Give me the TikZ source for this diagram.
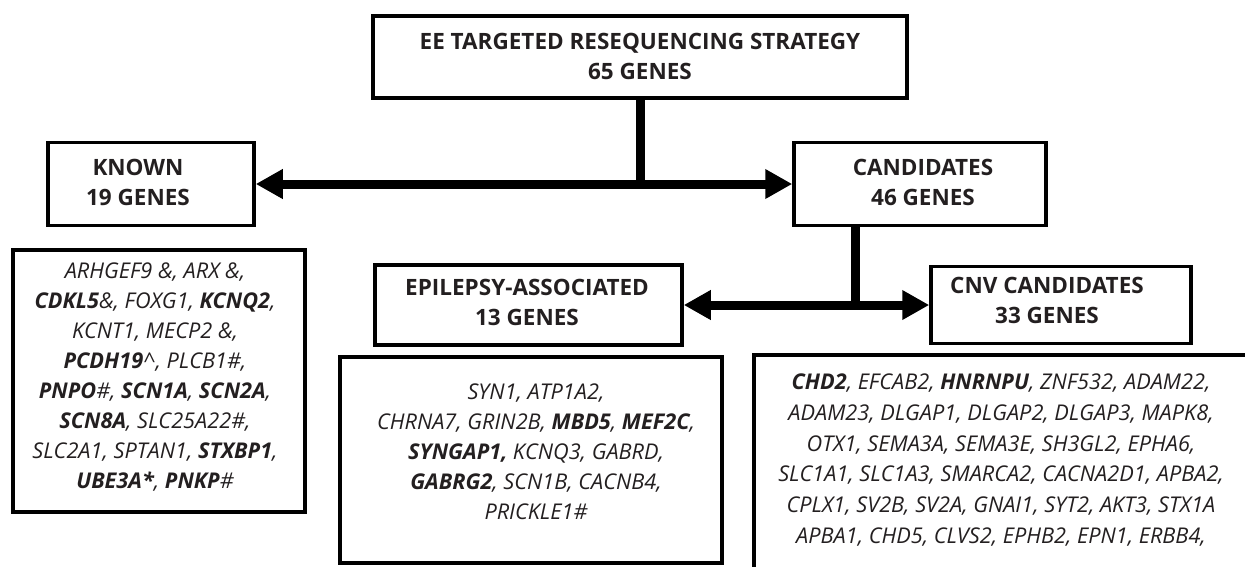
\documentclass[tikz,border=0pt]{standalone}
\usepackage{fontspec}
\setmainfont{Open Sans}
\usetikzlibrary{arrows.meta}
\definecolor{ink}{HTML}{231F20}
\newcommand\gb[1]{\textbf{#1}}
\begin{document}
\begin{tikzpicture}[x=1pt,y=-1pt,
  box/.style={draw=black,line width=3.5pt,rectangle,inner sep=0pt},
  head/.style={text=ink,align=center,font=\fontsize{22.5}{30}\selectfont\bfseries,inner sep=0pt},
  genes/.style={text=ink,align=center,font=\fontsize{21.7}{30}\selectfont\itshape,inner sep=0pt},
  link/.style={line width=9pt,draw=black},
  dbl/.style={link,{Triangle[length=27pt,width=28pt]}-{Triangle[length=27pt,width=28pt]}}]
\useasboundingbox (0,0) rectangle (1245,566);
\clip (0,0) rectangle (1245,566);
% header boxes
\node[box,minimum width=534pt,minimum height=82pt] (top) at (640,57) {};
\node[head] (toptxt) at (640,56) {EE TARGETED RESEQUENCING STRATEGY\\65 GENES};
\node[box,minimum width=206pt,minimum height=83pt] (known) at (151,184) {};
\node[head] (knowntxt) at (138,182) {KNOWN\\19 GENES};
\node[box,minimum width=252pt,minimum height=83pt] (cand) at (920,184) {};
\node[head] (candtxt) at (923,182) {CANDIDATES\\46 GENES};
\node[box,minimum width=307pt,minimum height=80pt] (epi) at (528.5,305) {};
\node[head] (epitxt) at (527,302) {EPILEPSY-ASSOCIATED\\13 GENES};
\node[box,minimum width=260pt,minimum height=77pt] (cnv) at (1061,305) {};
\node[head] (cnvtxt) at (1047,300) {CNV CANDIDATES\\33 GENES};
% gene list boxes
\node[box,minimum width=292pt,minimum height=262pt] (knownlist) at (159,381) {};
\node[genes] (knowngenes) at (155,377) {ARHGEF9 \&, ARX \&,\\
\gb{CDKL5}\&, FOXG1, \gb{KCNQ2},\\
KCNT1, MECP2 \&,\\
\gb{PCDH19}\textasciicircum, PLCB1\#,\\
\gb{PNPO}\#, \gb{SCN1A}, \gb{SCN2A},\\
\gb{SCN8A}, SLC25A22\#,\\
SLC2A1, SPTAN1, \gb{STXBP1},\\
\gb{UBE3A*}, \gb{PNKP}\#};
\node[box,minimum width=382pt,minimum height=206pt] (epilist) at (531,460) {};
\node[genes] (epigenes) at (536,452) {SYN1, ATP1A2,\\
CHRNA7, GRIN2B, \gb{MBD5}, \gb{MEF2C},\\
\gb{SYNGAP1,} KCNQ3, GABRD,\\
\gb{GABRG2}, SCN1B, CACNB4,\\
PRICKLE1\#};
\node[box,minimum width=520pt,minimum height=260pt] (cnvlist) at (1014,485) {};
\node[genes,font=\fontsize{21.7}{30.8}\selectfont\itshape] (cnvgenes) at (1001,460) {\gb{CHD2}, EFCAB2, \gb{HNRNPU}, ZNF532, ADAM22,\\
ADAM23, DLGAP1, DLGAP2, DLGAP3, MAPK8,\\
OTX1, SEMA3A, SEMA3E, SH3GL2, EPHA6,\\
SLC1A1, SLC1A3, SMARCA2, CACNA2D1, APBA2,\\
CPLX1, SV2B, SV2A, GNAI1, SYT2, AKT3, STX1A\\
APBA1, CHD5, CLVS2, EPHB2, EPN1, ERBB4,};
% connectors
\draw[dbl] (known.east) -- (cand.west);
\draw[link] (top.south) -- (top.south |- known.east);
\coordinate (cdrop) at (855,225.5);
\draw[dbl] (epi.east) -- (cnv.west);
\draw[link] (cdrop) -- (cdrop |- cnv.west);
\end{tikzpicture}
\end{document}
